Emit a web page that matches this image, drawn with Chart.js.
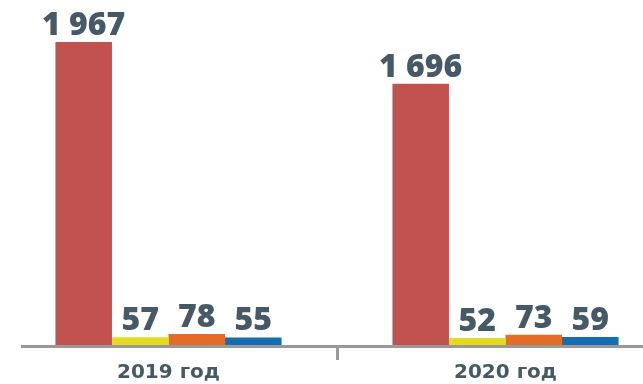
<!DOCTYPE html>
<html lang="ru">
<head>
<meta charset="utf-8">
<title>2019–2020</title>
<script src="https://cdn.jsdelivr.net/npm/chart.js@4.4.1/dist/chart.umd.min.js"></script>
<style>
  html, body { margin: 0; padding: 0; background: #fff; overflow: hidden; }
  #wrap { width: 674px; height: 384px; }
</style>
</head>
<body>
<div id="wrap"><canvas id="c" width="674" height="384"></canvas></div>
<script>
// Data
const categories = ['2019 год', '2020 год'];
const seriesRed    = [1967, 1696];
const seriesYellow = [57, 52];
const seriesOrange = [78, 73];
const seriesBlue   = [55, 59];

const colors = ['#c25250', '#e2db1f', '#e46c26', '#176db3'];
const textColor = '#455a66';
const axisGray = '#999999';

// value labels above each bar ("1 967" style, space as thousands sep)
const valueLabels = {
  id: 'valueLabels',
  afterDatasetsDraw(chart) {
    const ctx = chart.ctx;
    ctx.save();
    ctx.font = '800 32px "Open Sans", sans-serif';
    ctx.fillStyle = textColor;
    ctx.textAlign = 'center';
    ctx.textBaseline = 'alphabetic';
    chart.data.datasets.forEach((ds, i) => {
      chart.getDatasetMeta(i).data.forEach((bar, j) => {
        const txt = ds.data[j].toLocaleString('ru-RU').replace(/\s/g, '\u00a0');
        ctx.fillText(txt, bar.x, bar.y - 7);
      });
    });
    ctx.restore();
  }
};

// baseline drawn over the bars, starting a little in from the left edge
const baseLine = {
  id: 'baseLine',
  afterDatasetsDraw(chart) {
    const { ctx, chartArea } = chart;
    ctx.save();
    ctx.strokeStyle = axisGray;
    ctx.lineWidth = 3;
    ctx.beginPath();
    ctx.moveTo(chartArea.left + 21, chartArea.bottom + 0.5);
    ctx.lineTo(chartArea.right, chartArea.bottom + 0.5);
    ctx.stroke();
    ctx.restore();
  }
};

new Chart(document.getElementById('c'), {
  type: 'bar',
  data: {
    labels: categories,
    datasets: [
      { data: seriesRed,    backgroundColor: colors[0] },
      { data: seriesYellow, backgroundColor: colors[1] },
      { data: seriesOrange, backgroundColor: colors[2] },
      { data: seriesBlue,   backgroundColor: colors[3] }
    ]
  },
  options: {
    responsive: false,
    animation: false,
    layout: { padding: 0 },
    datasets: { bar: { barPercentage: 1, categoryPercentage: 0.671, borderWidth: 0 } },
    plugins: { legend: { display: false }, tooltip: { enabled: false } },
    scales: {
      x: {
        offset: true,
        border: { display: false },
        grid: {
          offset: true,
          drawOnChartArea: false,
          drawTicks: true,
          tickLength: 14,
          lineWidth: 3,
          color: ctx => ctx.index === 1 ? axisGray : 'rgba(0,0,0,0)'
        },
        ticks: {
          padding: 1,
          color: textColor,
          font: { family: '"DejaVu Sans", sans-serif', size: 20, weight: 'bold' }
        },
        afterFit: s => { s.height = 38; }
      },
      y: {
        display: false,
        min: 0,
        max: 2238
      }
    }
  },
  plugins: [valueLabels, baseLine]
});
</script>
</body>
</html>
